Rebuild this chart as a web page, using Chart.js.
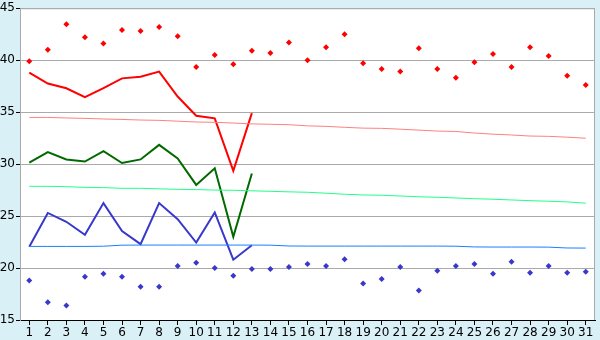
<!DOCTYPE html>
<html>
<head>
<meta charset="utf-8">
<script src="https://cdn.jsdelivr.net/npm/chart.js@4.4.1/dist/chart.umd.min.js"></script>
<style>
  html, body { margin: 0; padding: 0; background: #daf0f7; }
  #wrap { width: 600px; height: 340px; }
</style>
</head>
<body>
<div id="wrap"><canvas id="grafico" width="600" height="340"></canvas></div>
<script>
const dias = [];
for (let d = 1; d <= 31; d++) dias.push(String(d));

const maximas = [39.9, 41.0, 43.45, 42.2, 41.6, 42.9, 42.8, 43.2, 42.3, 39.35,
  40.5, 39.6, 40.9, 40.7, 41.7, 40.0, 41.25, 42.5, 39.7, 39.15,
  38.9, 41.15, 39.15, 38.3, 39.8, 40.6, 39.35, 41.25, 40.4, 38.5, 37.6];

const minimas = [18.8, 16.7, 16.4, 19.15, 19.45, 19.15, 18.2, 18.2, 20.2, 20.5,
  20.0, 19.25, 19.9, 19.9, 20.1, 20.4, 20.2, 20.85, 18.5, 18.95,
  20.1, 17.85, 19.75, 20.2, 20.4, 19.45, 20.6, 19.55, 20.2, 19.55, 19.65];

const maxMes = [38.8, 37.75, 37.3, 36.45, 37.3, 38.25, 38.4, 38.9, 36.5, 34.65,
  34.4, 29.35, 34.9];
const mediaMes = [30.15, 31.15, 30.45, 30.25, 31.25, 30.1, 30.45, 31.85, 30.55, 28.0,
  29.6, 23.0, 29.1];
const minMes = [22.05, 25.3, 24.45, 23.2, 26.25, 23.55, 22.3, 26.25, 24.7, 22.45,
  25.35, 20.8, 22.2];

const tendMax = [34.49, 34.49, 34.44, 34.40, 34.34, 34.30, 34.24, 34.21, 34.13, 34.05,
  34.02, 33.95, 33.87, 33.83, 33.79, 33.68, 33.63, 33.54, 33.46, 33.44,
  33.36, 33.27, 33.18, 33.14, 32.99, 32.88, 32.80, 32.70, 32.67, 32.59, 32.49];
const tendMedia = [27.86, 27.86, 27.83, 27.76, 27.74, 27.67, 27.67, 27.62, 27.57, 27.55,
  27.50, 27.48, 27.43, 27.38, 27.33, 27.29, 27.20, 27.10, 27.03, 27.00,
  26.93, 26.86, 26.81, 26.74, 26.67, 26.62, 26.55, 26.48, 26.43, 26.36, 26.24];
const tendMin = [22.08, 22.08, 22.08, 22.08, 22.10, 22.20, 22.21, 22.21, 22.21, 22.21,
  22.21, 22.21, 22.21, 22.20, 22.12, 22.11, 22.11, 22.11, 22.11, 22.11,
  22.11, 22.11, 22.11, 22.10, 22.03, 22.02, 22.02, 22.02, 22.01, 21.93, 21.92];

const yTicks = [15, 20, 25, 30, 35, 40, 45];

function linha(dados, cor, largura) {
  return {
    data: dados,
    borderColor: cor,
    backgroundColor: cor,
    borderWidth: largura,
    pointRadius: 0,
    tension: 0,
    spanGaps: false
  };
}

function pontos(dados, cor) {
  return {
    data: dados,
    showLine: false,
    borderColor: cor,
    backgroundColor: cor,
    pointStyle: 'rectRot',
    pointRadius: 3,
    pointBorderWidth: 0
  };
}

const fundo = {
  id: 'fundo',
  beforeDraw(chart) {
    const ctx = chart.ctx;
    const a = chart.chartArea;
    ctx.save();
    ctx.fillStyle = '#daf0f7';
    ctx.fillRect(0, 0, chart.width, chart.height);
    ctx.fillStyle = '#ffffff';
    ctx.fillRect(a.left, a.top, a.right - a.left, a.bottom - a.top);
    ctx.strokeStyle = '#aaaaaa';
    ctx.lineWidth = 1;
    ctx.strokeRect(a.left + 0.5, a.top + 0.5, a.right - a.left - 1, a.bottom - a.top);
    ctx.restore();
  }
};

Chart.defaults.font.family = 'DejaVu Sans';
Chart.defaults.font.size = 12;
Chart.defaults.color = '#000000';

const ctx = document.getElementById('grafico').getContext('2d');

new Chart(ctx, {
  type: 'line',
  data: {
    labels: dias,
    datasets: [
      linha(tendMax, '#ff8080', 1),
      linha(tendMedia, '#22ff88', 1),
      linha(tendMin, '#1a80ff', 1),
      linha(maxMes, '#ff0000', 2),
      linha(mediaMes, '#006a00', 2),
      linha(minMes, '#3838cc', 2),
      pontos(maximas, '#ff0000'),
      pontos(minimas, '#3838cc')
    ]
  },
  options: {
    responsive: false,
    animation: false,
    layout: { padding: { top: 5, right: 5, left: 0, bottom: 0 } },
    plugins: {
      legend: { display: false },
      tooltip: { enabled: false }
    },
    scales: {
      x: {
        offset: true,
        grid: {
          drawOnChartArea: false,
          drawTicks: true,
          tickLength: 5,
          color: '#000000',
          offset: false
        },
        border: { color: '#000000' },
        ticks: { padding: 1, maxRotation: 0, autoSkip: false },
        afterFit(scale) { scale.height = 20; }
      },
      y: {
        min: 15,
        max: 45,
        afterBuildTicks(scale) {
          scale.ticks = yTicks.map(v => ({ value: v }));
        },
        grid: {
          color: '#aaaaaa',
          tickColor: '#000000',
          tickLength: 4
        },
        border: { color: '#aaaaaa' },
        ticks: { padding: 1 },
        afterFit(scale) { scale.width = 20; }
      }
    }
  },
  plugins: [fundo]
});
</script>
</body>
</html>
